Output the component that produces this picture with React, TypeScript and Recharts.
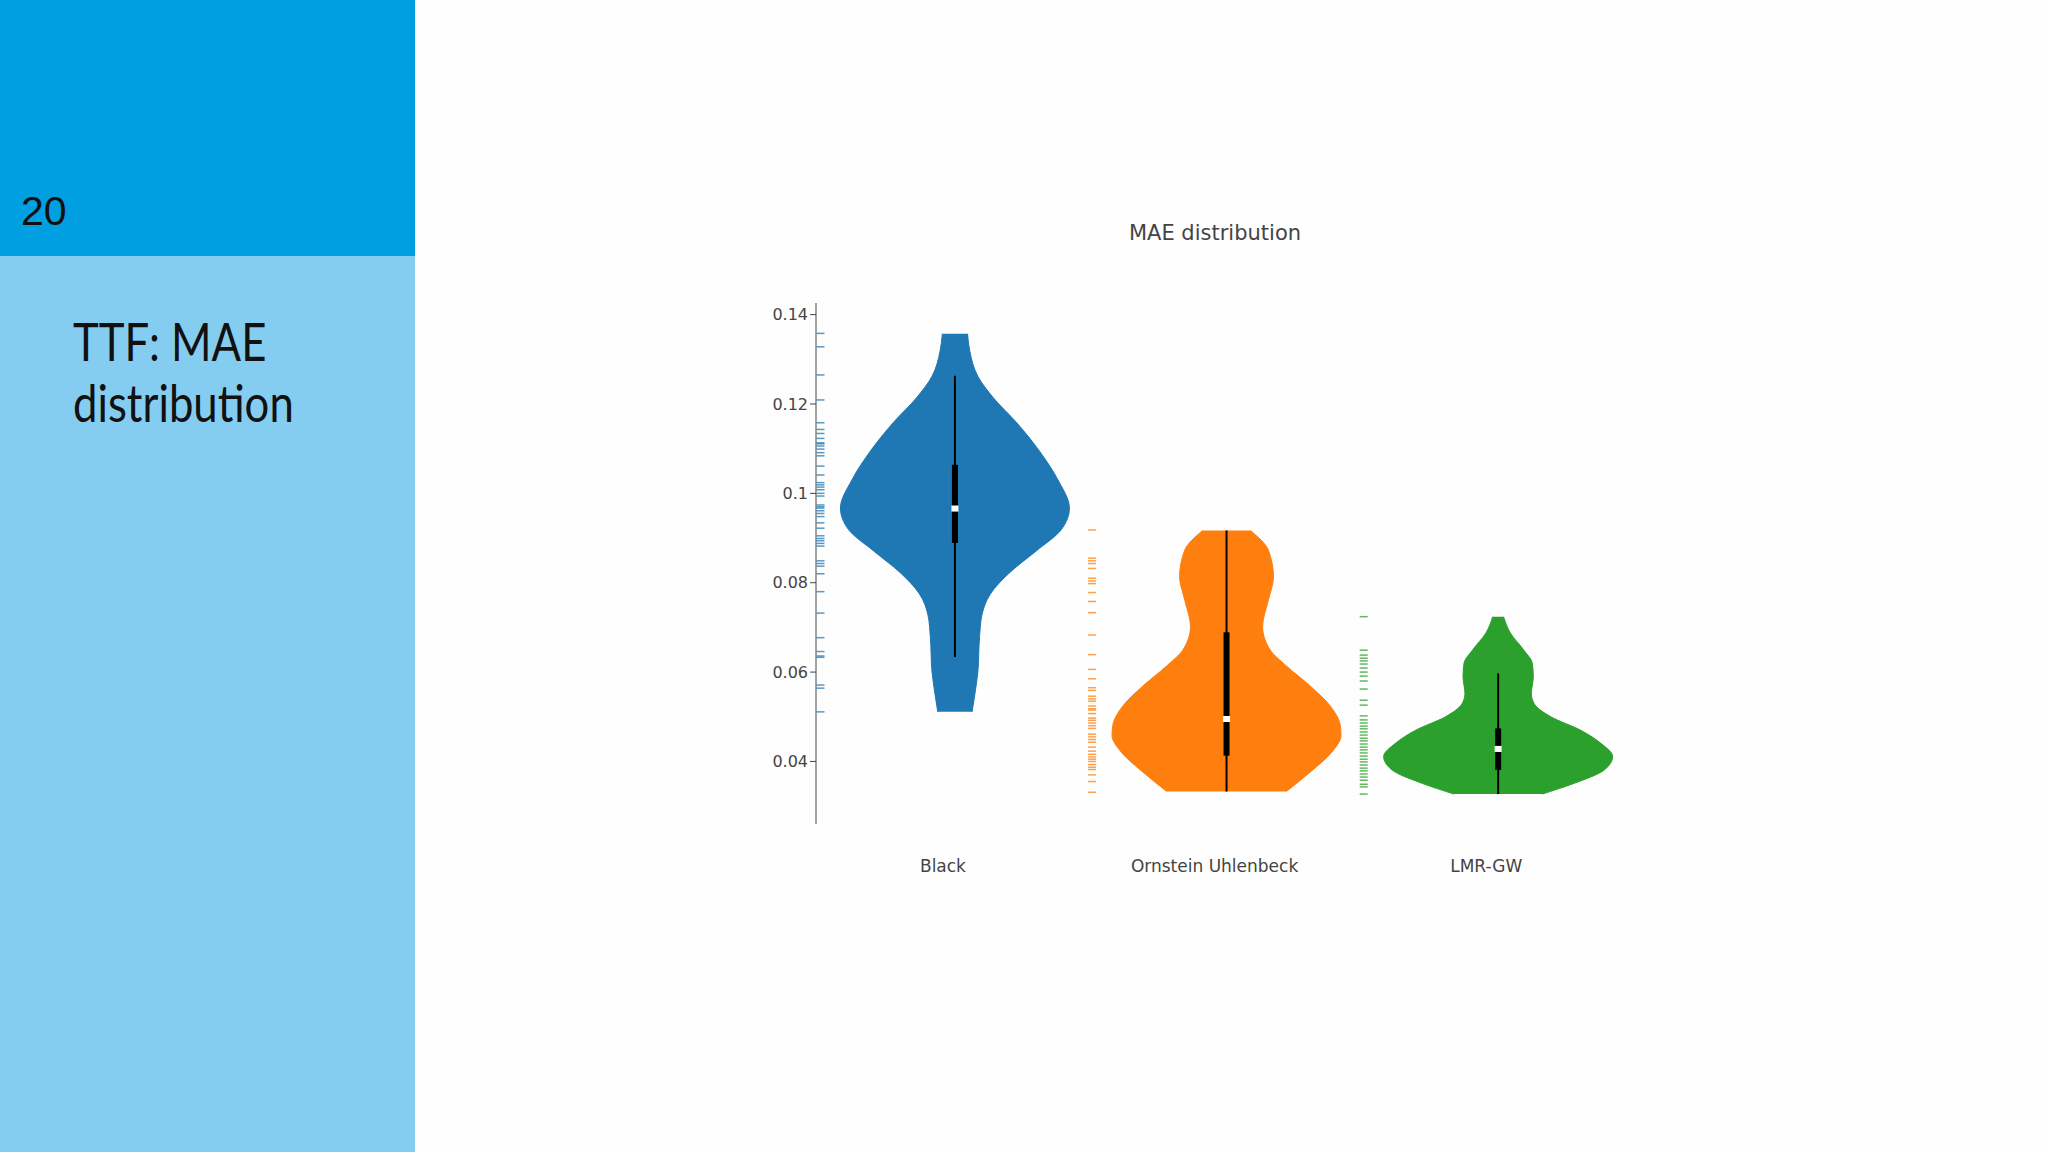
import { ComposedChart, Area, Line, Scatter, XAxis, YAxis } from 'recharts';

const categories = ['Black', 'Ornstein Uhlenbeck', 'LMR-GW'];
const colors = ['#1f77b4', '#ff7f0e', '#2ca02c'];
const yTicks = [0.04, 0.06, 0.08, 0.1, 0.12, 0.14];

// violin outlines: [MAE, relative half width]
const blackProfile = [
  [0.1357, 0.11], [0.1318, 0.13], [0.1262, 0.2], [0.1214, 0.335], [0.1158, 0.54],
  [0.1094, 0.74], [0.103, 0.9], [0.0967, 1.0], [0.0919, 0.93], [0.0871, 0.71],
  [0.0823, 0.48], [0.0775, 0.31], [0.0727, 0.235], [0.0679, 0.215], [0.06, 0.2],
  [0.0552, 0.175], [0.0511, 0.15],
];
const ouProfile = [
  [0.0917, 0.208], [0.0873, 0.365], [0.0813, 0.41], [0.0761, 0.365], [0.0702, 0.315],
  [0.065, 0.38], [0.0613, 0.526], [0.0569, 0.73], [0.0524, 0.906], [0.048, 0.994],
  [0.0458, 1.0], [0.0421, 0.92], [0.0376, 0.73], [0.0333, 0.523],
];
const lmrProfile = [
  [0.0724, 0.047], [0.0687, 0.108], [0.0649, 0.225], [0.062, 0.298], [0.059, 0.307],
  [0.0552, 0.29], [0.053, 0.313], [0.05, 0.46], [0.047, 0.72], [0.044, 0.9],
  [0.0411, 1.0], [0.0381, 0.927], [0.0351, 0.664], [0.0327, 0.386],
];

// [lower whisker, q1, median, q3, upper whisker]
const blackStats = [0.0634, 0.0889, 0.0966, 0.1064, 0.1263];
const ouStats = [0.0333, 0.0413, 0.0495, 0.0689, 0.0917];
const lmrStats = [0.0327, 0.0381, 0.0428, 0.0474, 0.0597];

// individual MAE values shown as rug ticks
const blackRug = [
  0.1358, 0.1328, 0.1265, 0.1209, 0.1158, 0.1143, 0.1134, 0.1123, 0.1113, 0.1111,
  0.1106, 0.1099, 0.1091, 0.1084, 0.1061, 0.1041, 0.1024, 0.1019, 0.1014, 0.1008,
  0.1, 0.0994, 0.0974, 0.097, 0.0967, 0.0961, 0.0955, 0.0948, 0.0934, 0.0922,
  0.0905, 0.0899, 0.0894, 0.0888, 0.0882, 0.0849, 0.0843, 0.0837, 0.082, 0.078,
  0.0732, 0.0677, 0.0646, 0.0636, 0.0633, 0.0571, 0.0564, 0.0511,
];
const ouRug = [
  0.0918, 0.0855, 0.0849, 0.0843, 0.0832, 0.081, 0.0804, 0.0798, 0.0778, 0.0758,
  0.0733, 0.0683, 0.0639, 0.0606, 0.0585, 0.0565, 0.0559, 0.0546, 0.054, 0.0535,
  0.0524, 0.0518, 0.0515, 0.0507, 0.0497, 0.0492, 0.0486, 0.048, 0.0474, 0.0461,
  0.0455, 0.0449, 0.0443, 0.0432, 0.0423, 0.0416, 0.041, 0.0405, 0.04, 0.0393,
  0.0387, 0.0382, 0.037, 0.0355, 0.0331,
];
const lmrRug = [
  0.0724, 0.0649, 0.0638, 0.0631, 0.0625, 0.0618, 0.0609, 0.06, 0.0591, 0.058,
  0.0562, 0.0537, 0.0526, 0.0502, 0.0493, 0.0486, 0.0479, 0.0473, 0.0466, 0.0459,
  0.0452, 0.0446, 0.0439, 0.0432, 0.0426, 0.0419, 0.0412, 0.0405, 0.0399, 0.0392,
  0.0385, 0.0379, 0.0372, 0.0365, 0.0358, 0.0349, 0.0343, 0.0327,
];

const profiles = [blackProfile, ouProfile, lmrProfile];
const stats = [blackStats, ouStats, lmrStats];
const rugs = [blackRug, ouRug, lmrRug];

const HALF_WIDTH = 0.4215;
const VIOLIN_SHIFT = 0.044;
const RUG_SHIFT = -0.451;
const FONT = '"DejaVu Sans", Verdana, sans-serif';

function seg(c: number, a: number, b: number) {
  return [{ y: a, x: c }, { y: b, x: c }];
}

export default function App() {
  const series = categories.map((name, i) => {
    const c = i + VIOLIN_SHIFT;
    const [lo, q1, med, q3, hi] = stats[i];
    return {
      name,
      color: colors[i],
      violin: profiles[i].map(([v, d]) => ({ y: v, span: [c - d * HALF_WIDTH, c + d * HALF_WIDTH] })),
      whisker: seg(c, hi, lo),
      box: seg(c, q3, q1),
      median: seg(c, med + 0.00068, med - 0.00068),
      rug: rugs[i].map((v) => ({ x: i + RUG_SHIFT, y: v })),
    };
  });

  return (
    <div style={{ position: 'fixed', left: 0, top: 0, width: 2048, height: 1152, background: '#fefefe', overflow: 'hidden' }}>
      <div style={{ position: 'absolute', left: 0, top: 0, width: 415, height: 256, background: '#009fe2' }} />
      <div style={{ position: 'absolute', left: 0, top: 256, width: 415, height: 896, background: '#84cdf0' }} />
      <div style={{ position: 'absolute', left: 21, top: 186, fontFamily: '"Liberation Sans", Arial, sans-serif', fontSize: 41, lineHeight: '50px', color: '#111' }}>
        20
      </div>
      <div style={{ position: 'absolute', left: 73, top: 311, fontFamily: 'Lato, sans-serif', fontWeight: 400, fontSize: 52, lineHeight: '61px', color: '#111', transform: 'scaleX(0.84)', transformOrigin: 'left top', whiteSpace: 'nowrap' }}>
        TTF: MAE<br />distribution
      </div>

      <div style={{ position: 'absolute', left: 1015, top: 221, width: 400, textAlign: 'center', fontFamily: FONT, fontSize: 21, lineHeight: '24px', color: '#444' }}>
        MAE distribution
      </div>

      <div style={{ position: 'absolute', left: 600, top: 200 }}>
        <ComposedChart layout="vertical" width={1100} height={700} margin={{ top: 103, right: 78, bottom: 16, left: 0 }}>
          <XAxis
            type="number"
            dataKey="x"
            domain={[-0.4675, 2.5]}
            allowDataOverflow
            ticks={[0, 1, 2]}
            tickFormatter={(v: number) => categories[v] ?? ''}
            axisLine={false}
            tickLine={false}
            tickMargin={30}
            height={60}
            tick={{ fill: '#444', fontSize: 17, fontFamily: FONT }}
          />
          <YAxis
            type="number"
            dataKey="y"
            reversed
            domain={[0.026, 0.1426]}
            allowDataOverflow
            ticks={yTicks}
            width={216}
            stroke="#444"
            tick={{ fill: '#444', fontSize: 16, fontFamily: FONT }}
          />
          {series.map((s) => (
            <Area
              key={`v-${s.name}`}
              data={s.violin}
              dataKey="span"
              type="monotone"
              fill={s.color}
              fillOpacity={1}
              stroke={s.color}
              strokeWidth={1}
              dot={false}
              activeDot={false}
              isAnimationActive={false}
            />
          ))}
          {series.map((s) => (
            <Line key={`w-${s.name}`} data={s.whisker} dataKey="x" stroke="#000" strokeWidth={2} dot={false} activeDot={false} isAnimationActive={false} />
          ))}
          {series.map((s) => (
            <Line key={`b-${s.name}`} data={s.box} dataKey="x" stroke="#000" strokeWidth={6} dot={false} activeDot={false} isAnimationActive={false} />
          ))}
          {series.map((s) => (
            <Line key={`m-${s.name}`} data={s.median} dataKey="x" stroke="#fff" strokeWidth={7} dot={false} activeDot={false} isAnimationActive={false} />
          ))}
          {series.map((s) => (
            <Scatter
              key={`r-${s.name}`}
              data={s.rug}
              isAnimationActive={false}
              shape={(p: any) => (
                <line x1={p.cx - 4} x2={p.cx + 4} y1={p.cy} y2={p.cy} stroke={s.color} strokeWidth={1.5} strokeOpacity={0.75} />
              )}
            />
          ))}
        </ComposedChart>
      </div>
    </div>
  );
}
